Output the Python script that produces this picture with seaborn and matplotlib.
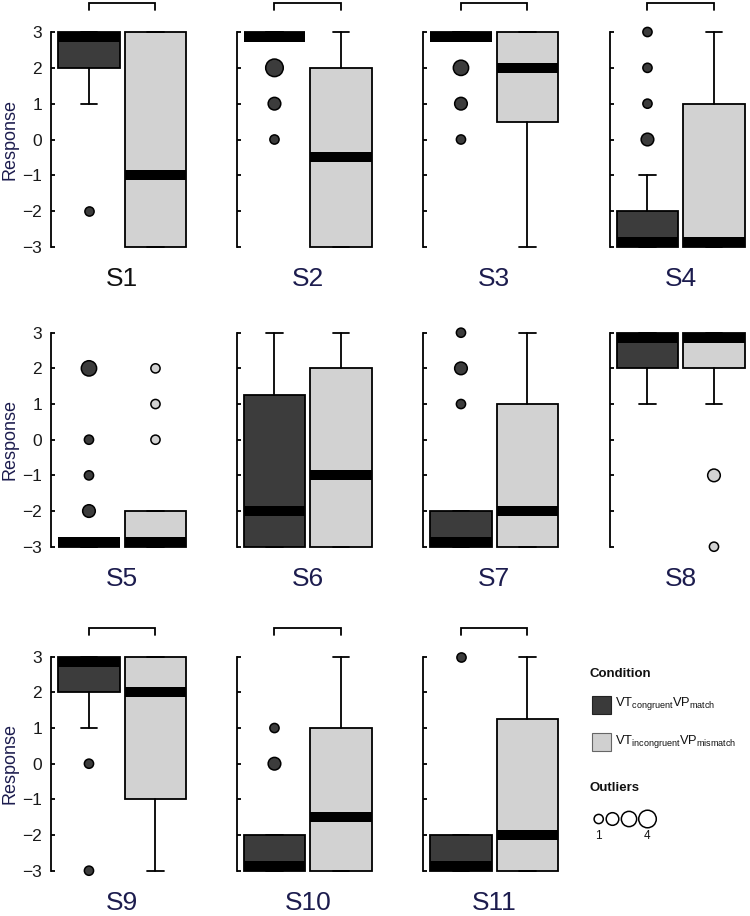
import numpy as np
import pandas as pd
import matplotlib
matplotlib.use("Agg")
import matplotlib.pyplot as plt
from matplotlib.patches import Rectangle
import seaborn as sns

# ---------------- data ----------------
subjects = ["S1", "S2", "S3", "S4", "S5", "S6", "S7", "S8", "S9", "S10", "S11"]

# congruent / match (dark)
cong_q1 = [2, 3, 3, -3, -3, -3, -3, 2, 2, -3, -3]
cong_med = [3, 3, 3, -3, -3, -2, -3, 3, 3, -3, -3]
cong_q3 = [3, 3, 3, -2, -3, 1.25, -2, 3, 3, -2, -2]
cong_lo = [1, 3, 3, -3, -3, -3, -3, 1, 1, -3, -3]
cong_hi = [3, 3, 3, -1, -3, 3, -2, 3, 3, -2, -2]

# incongruent / mismatch (light)
inc_q1 = [-3, -3, 0.5, -3, -3, -3, -3, 2, -1, -3, -3]
inc_med = [-1, -0.5, 2, -3, -3, -1, -2, 3, 2, -1.5, -2]
inc_q3 = [3, 2, 3, 1, -2, 2, 1, 3, 3, 1, 1.25]
inc_lo = [-3, -3, -3, -3, -3, -3, -3, 1, -3, -3, -3]
inc_hi = [3, 3, 3, 3, -2, 3, 3, 3, 3, 3, 3]

# outliers
out_subject = ["S1", "S2", "S2", "S2", "S3", "S3", "S3", "S4", "S4", "S4", "S4",
               "S5", "S5", "S5", "S5", "S5", "S5", "S5", "S7", "S7", "S7",
               "S8", "S8", "S9", "S9", "S10", "S10", "S11"]
out_cond = ["cong", "cong", "cong", "cong", "cong", "cong", "cong", "cong", "cong", "cong", "cong",
            "cong", "cong", "cong", "cong", "inc", "inc", "inc", "cong", "cong", "cong",
            "inc", "inc", "cong", "cong", "cong", "cong", "cong"]
out_value = [-2, 2, 1, 0, 2, 1, 0, 3, 2, 1, 0,
             2, 0, -1, -2, 2, 1, 0, 3, 2, 1,
             -1, -3, 0, -3, 1, 0, 3]
out_count = [1, 4, 2, 1, 3, 2, 1, 1, 1, 1, 2,
             3, 1, 1, 2, 1, 1, 1, 1, 2, 1,
             2, 1, 1, 1, 1, 2, 1]

significant = ["S1", "S2", "S3", "S4", "S9", "S10", "S11"]

legend_counts = [1, 2, 3, 4]

# ---------------- style ----------------
sns.set_theme(style="ticks")
plt.rcParams["font.family"] = ["Liberation Sans", "DejaVu Sans"]
plt.rcParams["mathtext.fontset"] = "custom"
plt.rcParams["mathtext.rm"] = "Liberation Sans"
plt.rcParams["mathtext.it"] = "Liberation Sans:italic"

DARK = "#3c3c3c"
LIGHT = "#d2d2d2"
NAVY = "#1c1c4e"
palette = {"cong": DARK, "inc": LIGHT}
SIZES = (44, 160)
NORM = (1, 4)
LW = 1.3

W, H = 750, 916
fig = plt.figure(figsize=(W / 100, H / 100), dpi=100)

row_top = [32, 332.7, 656.7]
row_bot = [247, 546.7, 870.7]
col_left = [51, 236.5, 423, 609.5]
ax_w = 135

df_out = pd.DataFrame({"subject": out_subject, "cond": out_cond,
                       "value": out_value, "count": out_count})
df_out["pos"] = df_out["cond"].map({"cong": 0, "inc": 1})

BOXW = 0.92
BAND = 0.28


def band(med):
    lo, hi = med - BAND / 2, med + BAND / 2
    if hi > 3:
        lo, hi = 3 - BAND, 3
    if lo < -3:
        lo, hi = -3, -3 + BAND
    return lo, hi


for i, s in enumerate(subjects):
    r, c = divmod(i, 4)
    left = col_left[c] / W
    bottom = 1 - row_bot[r] / H
    height = (row_bot[r] - row_top[r]) / H
    ax = fig.add_axes([left, bottom, ax_w / W, height])

    stats = [
        dict(med=cong_med[i], q1=cong_q1[i], q3=cong_q3[i],
             whislo=cong_lo[i], whishi=cong_hi[i], fliers=[]),
        dict(med=inc_med[i], q1=inc_q1[i], q3=inc_q3[i],
             whislo=inc_lo[i], whishi=inc_hi[i], fliers=[]),
    ]
    res = ax.bxp(stats, positions=[0, 1], widths=BOXW, patch_artist=True,
                 showfliers=False, manage_ticks=False, capwidths=0.25,
                 boxprops=dict(linewidth=LW, edgecolor="black"),
                 whiskerprops=dict(linewidth=LW, color="black"),
                 capprops=dict(linewidth=LW, color="black"),
                 medianprops=dict(visible=False))
    for patch, col in zip(res["boxes"], [DARK, LIGHT]):
        patch.set_facecolor(col)
        patch.set_zorder(2)
    for key in res:
        for art in res[key]:
            art.set_clip_on(False)

    # median bands
    for pos, med in zip([0, 1], [cong_med[i], inc_med[i]]):
        lo, hi = band(med)
        ax.bar(pos, hi - lo, bottom=lo, width=BOXW, color="black",
               linewidth=0, zorder=3, clip_on=False)

    # outliers
    sub = df_out[df_out["subject"] == s]
    if len(sub):
        sns.scatterplot(data=sub, x="pos", y="value", hue="cond", palette=palette,
                        size="count", sizes=SIZES, size_norm=NORM,
                        edgecolor="black", linewidth=1.1, legend=False,
                        ax=ax, zorder=5, clip_on=False)

    # significance bracket
    if s in significant:
        ax.plot([0, 0, 1, 1], [3.62, 3.81, 3.81, 3.62], color="black",
                linewidth=LW, clip_on=False, solid_joinstyle="miter")

    ax.set_xlim(-0.571, 1.459)
    ax.set_ylim(-3, 3)
    ax.set_yticks([-3, -2, -1, 0, 1, 2, 3])
    ax.set_xticks([])
    ax.set_xlabel("")
    ax.set_ylabel("")
    for sp in ["top", "right", "bottom"]:
        ax.spines[sp].set_visible(False)
    ax.spines["left"].set_linewidth(LW)
    ax.spines["left"].set_color("black")
    ax.tick_params(axis="y", direction="in", length=3, width=LW, pad=6.5,
                   labelsize=12.5, labelcolor="#1a1a1a", color="black",
                   labelleft=(c == 0))
    ax.patch.set_alpha(0)

    ax.annotate(s, xy=(0.5, 0), xycoords=("data", "axes fraction"),
                xytext=(0, -23), textcoords="offset points",
                ha="center", va="center", fontsize=19,
                color="#111111" if s == "S1" else NAVY)

    if c == 0:
        fig.text(9.5 / W, 1 - (row_top[r] + row_bot[r]) / 2 / H, "Response",
                 rotation=90, ha="center", va="center", fontsize=13, color=NAVY)

# ---------------- legend panel ----------------
lax = fig.add_axes([560 / W, 0, 190 / W, 306 / H])
lax.set_xlim(560, 750)
lax.set_ylim(916, 610)
lax.axis("off")

lax.text(589, 674, "Condition", fontsize=9.5, fontweight="bold",
         ha="left", va="center", color="#111111")
lax.add_patch(Rectangle((592, 696), 19, 18, facecolor="#3a3a3a",
                        edgecolor="#222222", linewidth=0.8))
lax.text(615, 704, r"VT$_{\mathrm{congruent}}$VP$_{\mathrm{match}}$",
         fontsize=9.3, ha="left", va="center", color="#111111")
lax.add_patch(Rectangle((592, 733), 19, 18, facecolor="#d0d0d0",
                        edgecolor="#666666", linewidth=0.8))
lax.text(615, 741, r"VT$_{\mathrm{incongruent}}$VP$_{\mathrm{mismatch}}$",
         fontsize=9.3, ha="left", va="center", color="#111111")
lax.text(589, 788, "Outliers", fontsize=9.5, fontweight="bold",
         ha="left", va="center", color="#111111")

leg_df = pd.DataFrame({"x": [598.7, 612.5, 629, 647.5],
                       "y": [819] * 4, "count": legend_counts})
sns.scatterplot(data=leg_df, x="x", y="y", size="count", sizes=SIZES,
                size_norm=NORM, color="white", edgecolor="black",
                linewidth=1.1, legend=False, ax=lax, zorder=5, clip_on=False)
lax.set_xlim(560, 750)
lax.set_ylim(916, 610)
lax.axis("off")
lax.text(598.7, 836, str(legend_counts[0]), fontsize=8.5, ha="center",
         va="center", color="#111111")
lax.text(647.5, 836, str(legend_counts[-1]), fontsize=8.5, ha="center",
         va="center", color="#111111")

fig.savefig("out.png", dpi=100)
